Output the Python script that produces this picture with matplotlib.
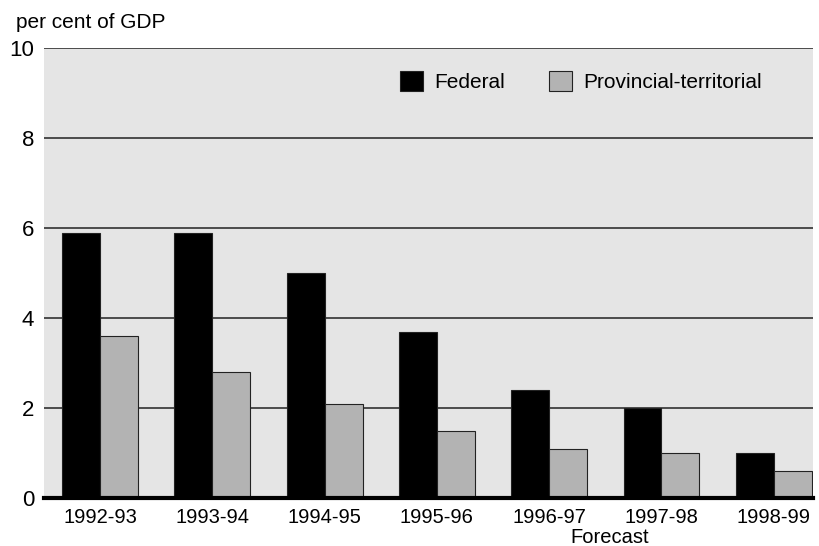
import numpy as np
import matplotlib.pyplot as plt

plt.rcParams['font.family'] = ['Liberation Sans', 'DejaVu Sans']

years = ["1992-93", "1993-94", "1994-95", "1995-96", "1996-97", "1997-98", "1998-99"]
federal = [5.9, 5.9, 5.0, 3.7, 2.4, 2.0, 1.0]
provincial = [3.6, 2.8, 2.1, 1.5, 1.1, 1.0, 0.6]

fig = plt.figure(figsize=(8.19, 5.46), dpi=100)
ax = fig.add_axes([0.0537, 0.0879, 0.939, 0.8241])
ax.set_facecolor("#e5e5e5")

x = np.arange(len(years))
w = 0.338
ax.bar(x - w/2, federal, w, color="black", edgecolor="#222222", linewidth=0.8,
       label="Federal", zorder=3)
ax.bar(x + w/2, provincial, w, color="#b3b3b3", edgecolor="#222222", linewidth=0.8,
       label="Provincial-territorial", zorder=3)

ax.set_xlim(-0.5, 6.35)
ax.set_ylim(0, 10)
ax.set_yticks([0, 2, 4, 6, 8, 10])
ax.set_xticks(x)
ax.set_xticklabels(years, fontsize=14.5)
ax.tick_params(axis="y", labelsize=16, length=0, pad=7)
ax.tick_params(axis="x", length=0, pad=7)

for v in [2, 4, 6, 8, 10]:
    ax.axhline(v, color="#222222", linewidth=1.1, zorder=2)

for s in ["left", "right", "top"]:
    ax.spines[s].set_visible(False)
ax.spines["bottom"].set_linewidth(3)
ax.spines["bottom"].set_zorder(4)

fig.text(0.019, 0.959, "per cent of GDP", fontsize=15, va="center", ha="left")
ax.text(4.54, -0.88, "Forecast", ha="center", va="center", fontsize=14.5)

ax.legend(loc="upper left", bbox_to_anchor=(0.452, 0.967), ncol=2, frameon=False,
          fontsize=15, handlelength=1.1, handleheight=1.1, columnspacing=2.1,
          handletextpad=0.55, borderaxespad=0)

plt.savefig("out.png", dpi=100)
plt.close()
